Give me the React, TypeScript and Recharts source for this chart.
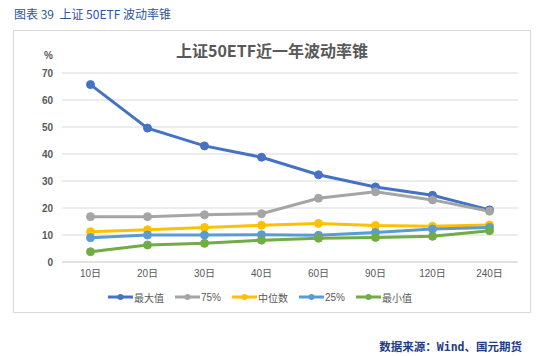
import { LineChart, Line, XAxis, YAxis, CartesianGrid, Legend } from "recharts";

const categories = ["10日", "20日", "30日", "40日", "60日", "90日", "120日", "240日"];
const maxVals = [65.7, 49.6, 43.0, 38.8, 32.3, 27.8, 24.7, 19.3];
const p75Vals = [16.8, 16.8, 17.5, 17.9, 23.6, 26.0, 23.0, 18.8];
const medianVals = [11.2, 11.9, 12.8, 13.6, 14.3, 13.5, 13.2, 13.7];
const p25Vals = [9.0, 10.0, 10.0, 10.1, 9.9, 10.9, 12.2, 12.8];
const minVals = [3.8, 6.3, 6.9, 8.1, 8.8, 9.1, 9.5, 11.6];
const yTicks = [0, 10, 20, 30, 40, 50, 60, 70];

const series = [
  { key: "max", name: "最大值", color: "#4472c4" },
  { key: "p75", name: "75%", color: "#a5a5a5" },
  { key: "median", name: "中位数", color: "#ffc000" },
  { key: "p25", name: "25%", color: "#5b9bd5" },
  { key: "min", name: "最小值", color: "#70ad47" },
];

const data = categories.map((c, i) => ({
  name: c,
  max: maxVals[i],
  p75: p75Vals[i],
  median: medianVals[i],
  p25: p25Vals[i],
  min: minVals[i],
}));

const FONT = '"Liberation Sans", "Noto Sans CJK SC", sans-serif';

function LegendContent() {
  return (
    <div
      style={{
        display: "flex",
        justifyContent: "center",
        alignItems: "center",
        height: 30,
        fontFamily: FONT,
        fontSize: 10,
        color: "#595959",
      }}
    >
      {series.map((s) => (
        <div key={s.key} style={{ display: "flex", alignItems: "center", marginRight: 11 }}>
          <svg width={25} height={10} style={{ marginRight: 1 }}>
            <line x1={0} y1={5} x2={25} y2={5} stroke={s.color} strokeWidth={3} />
            <circle cx={12.5} cy={5} r={3} fill={s.color} />
          </svg>
          <span>{s.name}</span>
        </div>
      ))}
    </div>
  );
}

export default function App() {
  return (
    <div
      style={{
        position: "fixed",
        left: 0,
        top: 0,
        width: 549,
        height: 356,
        background: "#fff",
        fontFamily: FONT,
      }}
    >
      <div
        style={{
          position: "absolute",
          left: 14,
          top: 5,
          fontSize: 12,
          color: "#2e5597",
          fontFamily: '"Noto Sans CJK SC", sans-serif',
          whiteSpace: "pre",
        }}
      >
        图表 39  上证 50ETF 波动率锥
      </div>

      <div
        style={{
          position: "absolute",
          left: 13,
          top: 30,
          width: 516,
          height: 281,
          border: "1px solid #d9d9d9",
        }}
      />

      <div
        style={{
          position: "absolute",
          left: 13,
          top: 38,
          width: 518,
          textAlign: "center",
          fontSize: 16,
          fontWeight: "bold",
          color: "#595959",
          fontFamily: '"Noto Sans CJK SC", sans-serif',
        }}
      >
        上证50ETF近一年波动率锥
      </div>

      <div
        style={{
          position: "absolute",
          left: 44,
          top: 50,
          fontSize: 10,
          fontWeight: "bold",
          color: "#595959",
        }}
      >
        %
      </div>

      <div style={{ position: "absolute", left: 13, top: 30 }}>
        <LineChart
          width={517}
          height={282}
          data={data}
          margin={{ top: 43, right: 12, left: 0, bottom: 0 }}
        >
          <CartesianGrid vertical={false} stroke="#d9d9d9" />
          <XAxis
            dataKey="name"
            height={20}
            padding={{ left: 28.5, right: 28.5 }}
            tickLine={false}
            tickSize={0}
            tickMargin={8}
            axisLine={{ stroke: "#d9d9d9" }}
            tick={{ fontSize: 10, fill: "#595959", fontFamily: FONT }}
          />
          <YAxis
            width={49}
            domain={[0, 70]}
            ticks={yTicks}
            tickLine={false}
            axisLine={false}
            tickSize={0}
            tickMargin={9}
            tick={{ fontSize: 10, fill: "#595959", fontWeight: "bold", fontFamily: FONT }}
          />
          <Legend verticalAlign="bottom" height={30} content={<LegendContent />} />
          {series.map((s) => (
            <Line
              key={s.key}
              dataKey={s.key}
              name={s.name}
              stroke={s.color}
              strokeWidth={3}
              dot={{ r: 4, fill: s.color, stroke: s.color, strokeWidth: 1 }}
              isAnimationActive={false}
            />
          ))}
        </LineChart>
      </div>

      <div
        style={{
          position: "absolute",
          right: 27,
          top: 338,
          fontSize: 11.5,
          fontWeight: "bold",
          color: "#1f3c88",
          fontFamily: '"Noto Sans CJK SC", "DejaVu Sans Mono", monospace',
        }}
      >
        数据来源：<span style={{ fontFamily: '"DejaVu Sans Mono", monospace' }}>Wind</span>、国元期货
      </div>
    </div>
  );
}
